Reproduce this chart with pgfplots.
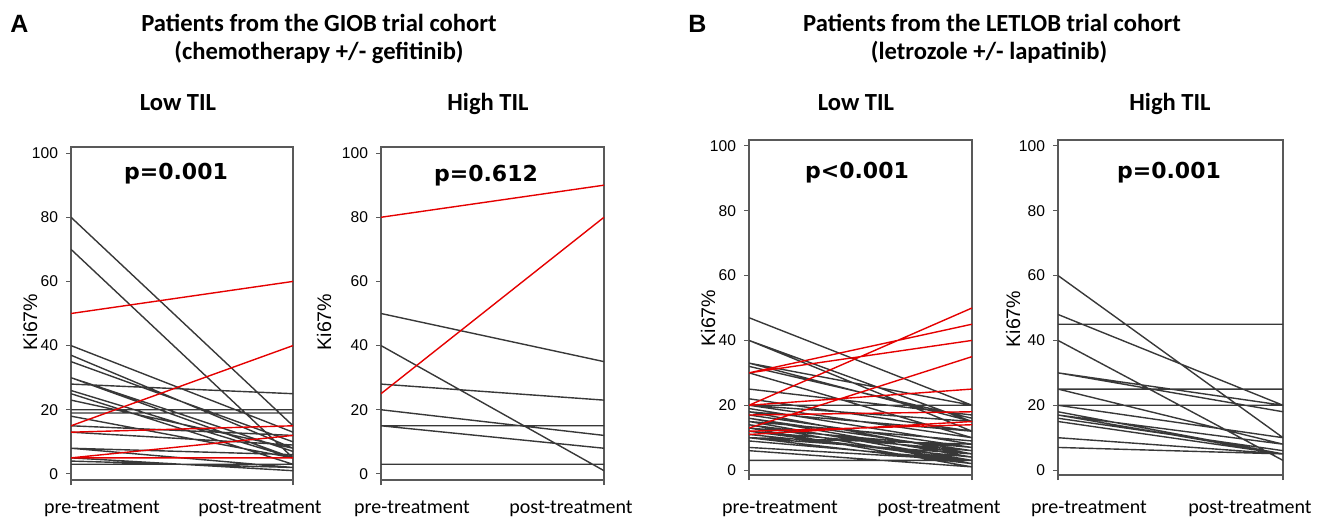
\documentclass[border=0pt]{standalone}
\usepackage{fontspec}
\setmainfont{Carlito}
\newfontfamily\arial{Liberation Sans}
\newfontfamily\verd{DejaVu Sans}
\usepackage{pgfplots}
\pgfplotsset{compat=1.18}

\pgfplotsset{
  panel/.style={
    scale only axis, anchor=south west,
    xmin=0, xmax=1,
    xtick={0,1}, xticklabels={},
    ytick={0,20,...,100},
    tick align=outside, tick pos=left,
    major tick length=2.5pt,
    axis line style={black!65, line width=0.65pt},
    tick style={black!65, line width=0.55pt},
    yticklabel style={font=\arial\fontsize{7.8}{9}\selectfont, xshift=-0.5pt},
    /pgf/number format/assume math mode=true,
    unbounded coords=jump,
  },
  blk/.style={black!78, line width=0.7pt},
  rd/.style={red!90!black, line width=0.7pt},
}
\newcommand\ttl{\bfseries\fontsize{12.3}{14}\selectfont}
\newcommand\pv{\verd\bfseries\fontsize{11}{13}\selectfont}
\newcommand\kl{\arial\fontsize{9.8}{11}\selectfont}
\newcommand\tl{\fontsize{10}{12}\selectfont}

\begin{document}
\begin{tikzpicture}
\path[use as bounding box] (0,0) rectangle (662.5pt,-259pt);

% A: GIOB, low TIL
\begin{axis}[panel, at={(35.5pt,-240pt)}, width=111pt, height=166.5pt, ymin=-1.9, ymax=101.9]
\addplot[blk] table[row sep=\\] {x y\\
0 80\\ 1 15\\ nan nan\\
0 70\\ 1 5\\ nan nan\\
0 40\\ 1 13\\ nan nan\\
0 37\\ 1 8\\ nan nan\\
0 35\\ 1 10\\ nan nan\\
0 30\\ 1 5\\ nan nan\\
0 30\\ 1 7\\ nan nan\\
0 28\\ 1 25\\ nan nan\\
0 26\\ 1 5\\ nan nan\\
0 25\\ 1 3\\ nan nan\\
0 23\\ 1 8\\ nan nan\\
0 20\\ 1 20\\ nan nan\\
0 19\\ 1 19\\ nan nan\\
0 18\\ 1 5\\ nan nan\\
0 15\\ 1 12\\ nan nan\\
0 13\\ 1 9\\ nan nan\\
0 8\\ 1 2\\ nan nan\\
0 8\\ 1 6\\ nan nan\\
0 5\\ 1 1\\ nan nan\\
0 4\\ 1 2\\ nan nan\\
0 3\\ 1 3\\
};
\addplot[rd] table[row sep=\\] {x y\\
0 50\\ 1 60\\ nan nan\\
0 15\\ 1 40\\ nan nan\\
0 13\\ 1 15\\ nan nan\\
0 5\\ 1 12\\ nan nan\\
0 5\\ 1 5\\
};
\end{axis}

% A: GIOB, high TIL
\begin{axis}[panel, at={(190.5pt,-240pt)}, width=111.5pt, height=166.5pt, ymin=-1.9, ymax=101.9]
\addplot[blk] table[row sep=\\] {x y\\
0 50\\ 1 35\\ nan nan\\
0 40\\ 1 1\\ nan nan\\
0 28\\ 1 23\\ nan nan\\
0 20\\ 1 12\\ nan nan\\
0 15\\ 1 15\\ nan nan\\
0 15\\ 1 8\\ nan nan\\
0 3\\ 1 3\\
};
\addplot[rd] table[row sep=\\] {x y\\
0 80\\ 1 90\\ nan nan\\
0 25\\ 1 80\\
};
\end{axis}

% B: LETLOB, low TIL
\begin{axis}[panel, at={(374.5pt,-237.5pt)}, width=111.5pt, height=167.5pt, ymin=-1.5, ymax=101.8]
\addplot[blk] table[row sep=\\] {x y\\
0 47\\ 1 20\\ nan nan\\
0 40\\ 1 15\\ nan nan\\
0 40\\ 1 12\\ nan nan\\
0 33\\ 1 20\\ nan nan\\
0 33\\ 1 15\\ nan nan\\
0 32\\ 1 16\\ nan nan\\
0 30\\ 1 10\\ nan nan\\
0 25\\ 1 17\\ nan nan\\
0 22\\ 1 12\\ nan nan\\
0 20\\ 1 20\\ nan nan\\
0 20\\ 1 15\\ nan nan\\
0 20\\ 1 10\\ nan nan\\
0 19\\ 1 8\\ nan nan\\
0 18\\ 1 5\\ nan nan\\
0 18\\ 1 12\\ nan nan\\
0 17\\ 1 7\\ nan nan\\
0 16\\ 1 4\\ nan nan\\
0 16\\ 1 6\\ nan nan\\
0 15\\ 1 3\\ nan nan\\
0 15\\ 1 9\\ nan nan\\
0 14\\ 1 5\\ nan nan\\
0 14\\ 1 2\\ nan nan\\
0 13\\ 1 7\\ nan nan\\
0 13\\ 1 1\\ nan nan\\
0 12\\ 1 3\\ nan nan\\
0 12\\ 1 6\\ nan nan\\
0 11\\ 1 4\\ nan nan\\
0 10\\ 1 2\\ nan nan\\
0 10\\ 1 8\\ nan nan\\
0 10\\ 1 5\\ nan nan\\
0 9\\ 1 3\\ nan nan\\
0 7\\ 1 3\\ nan nan\\
0 6\\ 1 1\\ nan nan\\
0 3\\ 1 3\\
};
\addplot[rd] table[row sep=\\] {x y\\
0 30\\ 1 45\\ nan nan\\
0 30\\ 1 40\\ nan nan\\
0 20\\ 1 50\\ nan nan\\
0 13\\ 1 35\\ nan nan\\
0 20\\ 1 25\\ nan nan\\
0 17\\ 1 18\\ nan nan\\
0 12\\ 1 14\\ nan nan\\
0 11\\ 1 15\\
};
\end{axis}

% B: LETLOB, high TIL
\begin{axis}[panel, at={(529pt,-237.5pt)}, width=112.5pt, height=167.5pt, ymin=-1.5, ymax=101.8]
\addplot[blk] table[row sep=\\] {x y\\
0 60\\ 1 10\\ nan nan\\
0 48\\ 1 20\\ nan nan\\
0 45\\ 1 45\\ nan nan\\
0 40\\ 1 3\\ nan nan\\
0 30\\ 1 20\\ nan nan\\
0 30\\ 1 18\\ nan nan\\
0 25\\ 1 25\\ nan nan\\
0 25\\ 1 8\\ nan nan\\
0 20\\ 1 20\\ nan nan\\
0 20\\ 1 10\\ nan nan\\
0 18\\ 1 5\\ nan nan\\
0 17\\ 1 8\\ nan nan\\
0 17\\ 1 5\\ nan nan\\
0 16\\ 1 6\\ nan nan\\
0 15\\ 1 5\\ nan nan\\
0 10\\ 1 5\\ nan nan\\
0 7\\ 1 5\\
};
\end{axis}

% panel letters and titles
\node[font=\arial\bfseries\fontsize{12.5}{14}\selectfont, anchor=base west, inner sep=0] at (5pt,-16.5pt) {A};
\node[font=\arial\bfseries\fontsize{12.5}{14}\selectfont, anchor=base west, inner sep=0] at (344pt,-16.5pt) {B};
\node[font=\ttl, anchor=base] at (159.5pt,-16pt) {Patients from the GIOB trial cohort};
\node[font=\ttl, anchor=base] at (159.5pt,-30pt) {(chemotherapy +/- gefitinib)};
\node[font=\ttl, anchor=base] at (496pt,-16pt) {Patients from the LETLOB trial cohort};
\node[font=\ttl, anchor=base] at (494.5pt,-30pt) {(letrozole +/- lapatinib)};
\node[font=\ttl, anchor=base] at (89pt,-55.5pt) {Low TIL};
\node[font=\ttl, anchor=base] at (244pt,-55.5pt) {High TIL};
\node[font=\ttl, anchor=base] at (428pt,-55.5pt) {Low TIL};
\node[font=\ttl, anchor=base] at (585pt,-55.5pt) {High TIL};

% p-values
\node[font=\pv, anchor=base] at (88pt,-90pt) {p=0.001};
\node[font=\pv, anchor=base] at (243pt,-91pt) {p=0.612};
\node[font=\pv, anchor=base] at (428.5pt,-89pt) {p<0.001};
\node[font=\pv, anchor=base] at (584.5pt,-89pt) {p=0.001};

% y labels
\node[font=\kl, rotate=90] at (15pt,-161pt) {Ki67\%};
\node[font=\kl, rotate=90] at (162pt,-161pt) {Ki67\%};
\node[font=\kl, rotate=90] at (354pt,-159pt) {Ki67\%};
\node[font=\kl, rotate=90] at (506.5pt,-159.5pt) {Ki67\%};

% x labels
\node[font=\tl, anchor=base] at (51pt,-256.5pt) {pre-treatment};
\node[font=\tl, anchor=base] at (130pt,-256.5pt) {post-treatment};
\node[font=\tl, anchor=base] at (206pt,-256.5pt) {pre-treatment};
\node[font=\tl, anchor=base] at (285.5pt,-256.5pt) {post-treatment};
\node[font=\tl, anchor=base] at (390pt,-256.5pt) {pre-treatment};
\node[font=\tl, anchor=base] at (469.5pt,-256.5pt) {post-treatment};
\node[font=\tl, anchor=base] at (544.5pt,-256.5pt) {pre-treatment};
\node[font=\tl, anchor=base] at (625pt,-256.5pt) {post-treatment};
\end{tikzpicture}
\end{document}
